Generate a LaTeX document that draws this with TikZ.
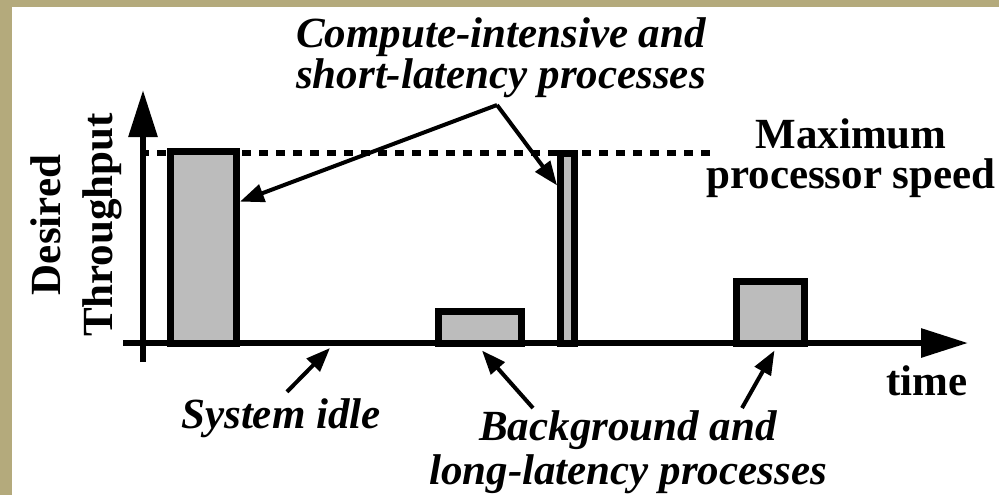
\documentclass[tikz,border=0pt]{standalone}
\usepackage{fontspec}
\setmainfont{Liberation Serif}
\usetikzlibrary{arrows.meta,calc,positioning}

\definecolor{paper}{RGB}{180,170,124}
\definecolor{barfill}{RGB}{188,188,188}

\begin{document}
\begin{tikzpicture}[x=0.5pt, y=-0.5pt,
  bar/.style={draw, line width=3.5pt, fill=barfill, inner sep=0pt},
  axis/.style={line width=3pt, -{Triangle[length=23.5pt, width=14pt]}},
  ptr/.style={line width=2pt, -{Triangle[length=12pt, width=9pt]}},
  lbl/.style={font=\fontsize{21.5}{19}\selectfont\bfseries\itshape, align=center, inner sep=0pt},
  hdr/.style={font=\fontsize{21.5}{20}\selectfont\bfseries, align=center, inner sep=0pt}]

  % Frame: tan strips on the left and on top
  \fill[paper] (0,0) rectangle (999,495);
  \fill[white] (12,7) rectangle (999,495);
  \path[use as bounding box] (0,0) rectangle (999,495);

  % Maximum speed level
  \draw[line width=3pt, dash pattern=on 4.5pt off 4pt] (140,153) -- (713,153);

  % Bars: name / centre x / centre y / width / height
  \foreach \n/\cx/\cy/\w/\h in {1/203.5/247.25/33/95.75,
                                2/480/327.25/41.5/15.75,
                                3/567.5/248.25/7/94.75,
                                4/770.5/312.25/34/30.75}
    \node[bar, minimum width=\w pt, minimum height=\h pt] (bar\n) at (\cx,\cy) {};

  % Axes
  \draw[axis] (143,362) -- (143,90);
  \draw[axis] (123,343) -- (968,343);

  % Labels
  \node[hdr, rotate=90] (ylab) at (76,225) {Desired\\[6pt]Throughput};
  \node[hdr] (tlab) at (927,395) [anchor=base] {time};
  \node[hdr] (maxlab) at (851,158) {Maximum\\processor speed};
  \node[lbl] (cmp) at (501,58) {Compute-intensive and\\short-latency processes};
  \node[lbl] (idle) at (281,428) [anchor=base] {System idle};
  \node[lbl, font=\fontsize{21.5}{22}\selectfont\bfseries\itshape] (bg) at (628,452) {Background and\\long-latency processes};

  % Pointers
  \coordinate (apex) at (497,105);
  \coordinate (idlept) at (330,348);
  \draw[ptr] (apex) -- ($(bar1.north east)!0.27!(bar1.south east)$);
  \draw[ptr] (apex) -- ($(bar3.north west)!0.18!(bar3.south west)$);
  \draw[ptr] ($(idle.north)+(6,-6)$) -- (idlept);
  \draw[ptr] ($(bg.north)+(-95,-2)$) -- ($(bar2.south)+(2,4)$);
  \draw[ptr] ($(bg.north)+(114,-2)$) -- ($(bar4.south)+(4,4)$);
\end{tikzpicture}
\end{document}
